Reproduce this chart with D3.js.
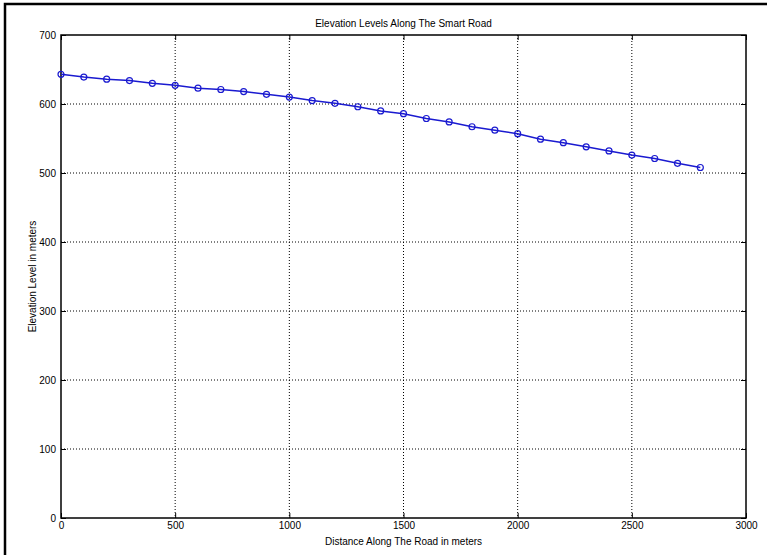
<!DOCTYPE html>
<html>
<head>
<meta charset="utf-8">
<script src="https://cdn.jsdelivr.net/npm/d3@7"></script>
<style>
  html, body { margin: 0; padding: 0; background: #fff; }
  svg text { font-family: "Liberation Sans Narrow", "Liberation Sans", Arial, sans-serif; fill: #000; }
</style>
</head>
<body>
<svg id="chart" width="767" height="555"></svg>
<script>
// Distance along the road (m) sampled every 100 m
const distances = [0, 100, 200, 300, 400, 500, 600, 700, 800, 900, 1000, 1100, 1200, 1300, 1400,
  1500, 1600, 1700, 1800, 1900, 2000, 2100, 2200, 2300, 2400, 2500, 2600, 2700, 2800];
// Elevation at each sample (m)
const elevations = [643, 639, 636, 634, 630, 627, 623, 621, 618, 614, 610, 605, 601, 596, 590,
  586, 579, 574, 567, 562, 557, 549, 544, 538, 532, 526, 521, 514, 508];
const xTicks = [0, 500, 1000, 1500, 2000, 2500, 3000];
const yTicks = [0, 100, 200, 300, 400, 500, 600, 700];

const titleText = "Elevation Levels Along The Smart Road";
const xLabelText = "Distance Along The Road in meters";
const yLabelText = "Elevation Level in meters";

const svg = d3.select("#chart");
const W = 767, H = 555;
const m = { left: 61, right: 21, top: 35, bottom: 37 };
const iw = W - m.left - m.right, ih = H - m.top - m.bottom;

// Outer figure frame (runs off the right and bottom edges)
svg.append("rect")
  .attr("x", 5).attr("y", 4).attr("width", 800).attr("height", 600)
  .attr("fill", "none").attr("stroke", "#000").attr("stroke-width", 2.5);

const x = d3.scaleLinear().domain([0, 3000]).range([0, iw]);
const y = d3.scaleLinear().domain([0, 700]).range([ih, 0]);

const g = svg.append("g").attr("transform", `translate(${m.left},${m.top})`);

// Dotted grid
g.append("g").selectAll("line").data(xTicks.slice(1, -1)).join("line")
  .attr("x1", d => x(d)).attr("x2", d => x(d)).attr("y1", 0).attr("y2", ih)
  .attr("stroke", "#000").attr("stroke-width", 1).attr("stroke-dasharray", "1,2");
g.append("g").selectAll("line").data(yTicks.slice(1, -1)).join("line")
  .attr("y1", d => y(d)).attr("y2", d => y(d)).attr("x1", 0).attr("x2", iw)
  .attr("stroke", "#000").attr("stroke-width", 1).attr("stroke-dasharray", "1,2");

// Axes with inward ticks on all sides
const fs = "10px";
const xb = g.append("g").attr("transform", `translate(0,${ih})`)
  .call(d3.axisBottom(x).tickValues(xTicks).tickSizeInner(-5).tickSizeOuter(0).tickPadding(4).tickFormat(d3.format("d")));
const xt = g.append("g")
  .call(d3.axisTop(x).tickValues(xTicks).tickSizeInner(-5).tickSizeOuter(0).tickFormat(""));
const yl = g.append("g")
  .call(d3.axisLeft(y).tickValues(yTicks).tickSizeInner(-5).tickSizeOuter(0).tickPadding(5).tickFormat(d3.format("d")));
const yr = g.append("g").attr("transform", `translate(${iw},0)`)
  .call(d3.axisRight(y).tickValues(yTicks).tickSizeInner(-5).tickSizeOuter(0).tickFormat(""));
[xb, xt, yl, yr].forEach(a => {
  a.selectAll("path").remove();
  a.selectAll("line").attr("stroke", "#000").attr("stroke-width", 1);
  a.selectAll("text").style("font-size", fs).attr("fill", "#000");
});
xb.selectAll("text").attr("dy", "0.71em");

// Axes box
g.append("rect").attr("x", 0).attr("y", 0).attr("width", iw).attr("height", ih)
  .attr("fill", "none").attr("stroke", "#000").attr("stroke-width", 1.5);

// Elevation profile
const pts = distances.map((d, i) => [d, elevations[i]]);
const color = "#1a1ad0";
g.append("path").datum(pts)
  .attr("fill", "none").attr("stroke", color).attr("stroke-width", 1.5)
  .attr("d", d3.line().x(d => x(d[0])).y(d => y(d[1])));
g.append("g").selectAll("circle").data(pts).join("circle")
  .attr("cx", d => x(d[0])).attr("cy", d => y(d[1])).attr("r", 3)
  .attr("fill", "none").attr("stroke", color).attr("stroke-width", 1.2);

// Titles
svg.append("text").attr("x", m.left + iw / 2).attr("y", 27).attr("text-anchor", "middle")
  .style("font-size", "10px").text(titleText);
svg.append("text").attr("x", m.left + iw / 2).attr("y", 545).attr("text-anchor", "middle")
  .style("font-size", "10px").text(xLabelText);
svg.append("text").attr("transform", `translate(36,${m.top + ih / 2}) rotate(-90)`)
  .attr("text-anchor", "middle").style("font-size", "10px").text(yLabelText);
</script>
</body>
</html>
